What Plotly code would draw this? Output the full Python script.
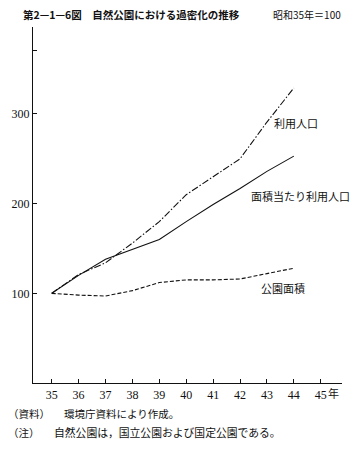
import plotly.graph_objects as go

years = [35, 36, 37, 38, 39, 40, 41, 42, 43, 44]
riyou_jinkou = [100, 121, 134, 156, 180, 210, 230, 250, 291, 329]
menseki_atari = [100, 120, 138, 149, 160, 180, 199, 217, 236, 253]
kouen_menseki = [100, 98, 97, 103, 112, 115, 115, 116, 122, 128]
x_ticks = [35, 36, 37, 38, 39, 40, 41, 42, 43, 44, 45]
x_ticktext = ["35", "36", "37", "38", "39", "40", "41", "42", "43", "44", "45"]
y_ticks = [100, 200, 300, 371]
y_ticktext = ["100", "200", "300", ""]

W, H = 358, 453
L, R, T, B = 33, 16, 27, 70
pw, ph = W - L - R, H - T - B

def px(x):
    return (x - L) / pw

def py(y):
    return (H - B - y) / ph

CJK = "Noto Sans CJK JP"
SERIF = "Liberation Serif"

fig = go.Figure()
line_style = dict(color="#111111", width=1.1)
fig.add_trace(go.Scatter(x=years, y=riyou_jinkou, mode="lines",
                         line=dict(**line_style, dash="7px,2px,1.5px,2px")))
fig.add_trace(go.Scatter(x=years, y=menseki_atari, mode="lines",
                         line=dict(**line_style)))
fig.add_trace(go.Scatter(x=years, y=kouen_menseki, mode="lines",
                         line=dict(**line_style, dash="4px,2px")))

ann = []
def text(t, x, y, size=11, font=CJK, anchor="left", color="#111111"):
    ann.append(dict(text=t, x=px(x), y=py(y), xref="paper", yref="paper",
                    xanchor=anchor, yanchor="middle", showarrow=False,
                    font=dict(family=font, size=size, color=color)))

text("<b>第2—1—6図　自然公園における過密化の推移</b>", 21, 14, size=10.5)
text("昭和35年＝100", 343, 14, size=10, anchor="right")
text("利用人口", 296, 123, size=11, anchor="center")
text("面積当たり利用人口", 300, 196, size=11, anchor="center")
text("公園面積", 283, 288, size=11, anchor="center")
text("年", 326, 393, size=11, anchor="left")
text("（資料）", 6, 413, size=10.5)
text("環境庁資料により作成。", 62, 413, size=10.5)
text("（注）", 6, 432, size=10.5)
text("自然公園は，国立公園および国定公園である。", 52, 432, size=10.8)

fig.update_layout(
    width=W, height=H,
    margin=dict(l=L, r=R, t=T, b=B, pad=0, autoexpand=False),
    paper_bgcolor="white", plot_bgcolor="white",
    showlegend=False,
    annotations=ann,
    xaxis=dict(range=[34.305, 45.79], tickvals=x_ticks, ticktext=x_ticktext,
               ticks="inside", ticklen=4, tickcolor="#111111", automargin=False,
               showline=True, linecolor="#111111", linewidth=1.2,
               showgrid=False, zeroline=False,
               tickfont=dict(family=SERIF, size=12, color="#111111")),
    yaxis=dict(range=[0, 397], tickvals=y_ticks, ticktext=y_ticktext,
               ticks="inside", ticklen=4, tickcolor="#111111", automargin=False,
               showline=True, linecolor="#111111", linewidth=1.2,
               showgrid=False, zeroline=False,
               tickfont=dict(family=SERIF, size=12, color="#111111")),
)

fig.write_html("out.html", config={"displayModeBar": False},
               post_script="document.body.style.margin='0';document.body.style.padding='0';")
